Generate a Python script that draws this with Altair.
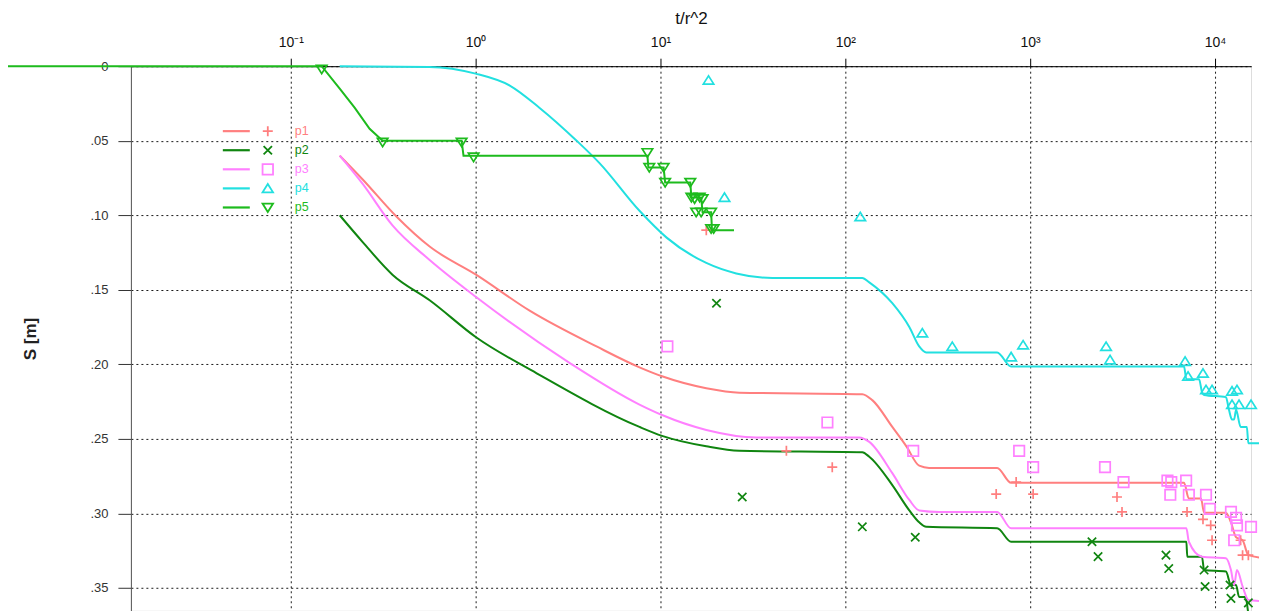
import altair as alt
import pandas as pd

# ---------------- data ----------------
series = ["p1", "p2", "p3", "p4", "p5"]
colors = ["#FF7F7F", "#108510", "#FF80FF", "#22E0E0", "#1DBB1D"]

# model curves
p1_line_x = [0.184, 0.245, 0.374, 0.564, 1.01, 1.96, 4.51, 7.7, 10.2, 17.7, 26.7, 123.6, 140, 179.6, 214, 251, 284, 663, 789, 6800, 7220, 8400, 8730, 11460, 12200, 13000, 14100, 15150, 18880]
p1_line_s = [0.060, 0.076, 0.101, 0.121, 0.140, 0.164, 0.188, 0.202, 0.208, 0.216, 0.219, 0.220, 0.224, 0.242, 0.255, 0.268, 0.2695, 0.2695, 0.2795, 0.2795, 0.290, 0.290, 0.2995, 0.2995, 0.306, 0.316, 0.318, 0.328, 0.330]

p2_line_x = [0.184, 0.245, 0.356, 0.564, 1.01, 2.14, 7.7, 10.2, 17.7, 26.7, 123.6, 134.8, 179.6, 222, 251, 274, 663, 789, 7000, 7080, 8500, 8730, 11460, 12200, 13000, 13490, 14640, 15150, 16500]
p2_line_s = [0.100, 0.118, 0.140, 0.157, 0.182, 0.206, 0.242, 0.248, 0.255, 0.258, 0.259, 0.262, 0.281, 0.298, 0.306, 0.309, 0.310, 0.319, 0.319, 0.329, 0.329, 0.338, 0.339, 0.348, 0.348, 0.356, 0.356, 0.367, 0.380]

p3_line_x = [0.184, 0.245, 0.356, 0.564, 1.01, 3.22, 7.7, 10.2, 17.7, 33, 119, 134.8, 179.6, 222, 251, 322, 663, 789, 7000, 7220, 8500, 11460, 12200, 12690, 13150, 14100, 15150, 18880]
p3_line_s = [0.060, 0.079, 0.107, 0.130, 0.155, 0.199, 0.227, 0.234, 0.244, 0.249, 0.249, 0.252, 0.273, 0.291, 0.298, 0.299, 0.299, 0.310, 0.310, 0.319, 0.329, 0.330, 0.338, 0.348, 0.338, 0.349, 0.358, 0.359]

p4_line_x = [0.184, 0.564, 1.0, 1.53, 2.22, 3.52, 4.68, 7.7, 10.8, 17.7, 25.7, 40.3, 123.6, 134.8, 179.6, 222, 251, 274, 663, 789, 6800, 7000, 8200, 8500, 8730, 11460, 11900, 12360, 12690, 13000, 13760, 14870, 15150, 18880]
p4_line_s = [0.0, 0.0005, 0.005, 0.013, 0.028, 0.050, 0.065, 0.097, 0.115, 0.132, 0.139, 0.142, 0.142, 0.145, 0.159, 0.175, 0.188, 0.192, 0.192, 0.2015, 0.2015, 0.210, 0.210, 0.2185, 0.2205, 0.222, 0.2305, 0.237, 0.237, 0.2305, 0.242, 0.242, 0.253, 0.253]

p5_line_x = [0.00295, 0.147, 0.184, 0.222, 0.267, 0.314, 0.84, 0.86, 8.5, 8.6, 10.4, 10.6, 14.5, 14.7, 16.6, 16.9, 18.8, 19.0, 25.0]
p5_line_s = [0.0, 0.0, 0.015, 0.028, 0.042, 0.050, 0.050, 0.060, 0.060, 0.068, 0.068, 0.078, 0.078, 0.088, 0.088, 0.098, 0.098, 0.110, 0.110]

# observations
p1_obs_x = [17.7, 48, 85, 655, 840, 1038, 2950, 3140, 7060, 8610, 9480, 9640, 13760, 14100, 15150]
p1_obs_s = [0.110, 0.258, 0.269, 0.287, 0.279, 0.287, 0.289, 0.299, 0.299, 0.304, 0.308, 0.318, 0.318, 0.328, 0.328]

p2_obs_x = [20.1, 27.7, 123.6, 239, 2160, 2330, 5430, 5620, 8730, 8840, 12060, 12200, 15150]
p2_obs_s = [0.159, 0.289, 0.309, 0.316, 0.319, 0.329, 0.328, 0.337, 0.338, 0.349, 0.348, 0.357, 0.360]

p3_obs_x = [10.9, 80, 233, 872, 1038, 2540, 3200, 5530, 5800, 6980, 5730, 7220, 8940, 9380, 12200, 13000, 13150, 12700, 15660]
p3_obs_s = [0.188, 0.239, 0.258, 0.258, 0.269, 0.269, 0.279, 0.278, 0.279, 0.278, 0.2875, 0.2875, 0.2875, 0.297, 0.299, 0.303, 0.308, 0.318, 0.309]

p4_obs_x = [18.2, 22.2, 120.5, 261, 379, 789, 916, 2575, 2706, 6890, 7150, 8610, 8940, 9640, 12360, 13150, 12360, 13490, 15660]
p4_obs_s = [0.0094, 0.088, 0.101, 0.179, 0.188, 0.195, 0.187, 0.188, 0.197, 0.198, 0.208, 0.206, 0.217, 0.217, 0.218, 0.217, 0.227, 0.227, 0.227]

p5_obs_x = [0.147, 0.314, 0.84, 0.975, 8.5, 8.7, 10.4, 10.6, 14.5, 14.7, 15.3, 16.3, 16.9, 15.6, 16.6, 18.8, 18.8, 19.4]
p5_obs_s = [0.002, 0.051, 0.051, 0.061, 0.058, 0.068, 0.068, 0.078, 0.078, 0.088, 0.089, 0.088, 0.089, 0.098, 0.098, 0.098, 0.109, 0.109]

x_ticks = [0.1, 1, 10, 100, 1000, 10000]
y_ticks = [0, 0.05, 0.10, 0.15, 0.20, 0.25, 0.30, 0.35]

lines = {"p1": (p1_line_x, p1_line_s), "p2": (p2_line_x, p2_line_s), "p3": (p3_line_x, p3_line_s),
         "p4": (p4_line_x, p4_line_s), "p5": (p5_line_x, p5_line_s)}
obs = {"p1": (p1_obs_x, p1_obs_s), "p2": (p2_obs_x, p2_obs_s), "p3": (p3_obs_x, p3_obs_s),
       "p4": (p4_obs_x, p4_obs_s), "p5": (p5_obs_x, p5_obs_s)}

# ---------------- styling ----------------
FONT = "Liberation Sans"
W, H = 1121, 545
X_DOMAIN = [0.01365, 15660]
Y_DOMAIN = [0, 0.3653]

shapes = {
    "p1": "M-1,0L1,0M0,-1L0,1",
    "p2": "M-1,-1L1,1M-1,1L1,-1",
    "p3": "square",
    "p4": "M-1,0.75L1,0.75L0,-0.85Z",
    "p5": "M-1,-0.75L1,-0.75L0,0.85Z",
}
sizes = {"p1": 100, "p2": 70, "p3": 110, "p4": 110, "p5": 110}
interp = {"p1": "monotone", "p2": "monotone", "p3": "monotone", "p4": "monotone", "p5": "linear"}

x_enc = alt.X(
    "x:Q",
    scale=alt.Scale(type="log", domain=X_DOMAIN, nice=False),
    axis=alt.Axis(
        orient="top", title="t/r^2", values=x_ticks,
        labelExpr="['10⁻¹','10⁰','10¹','10²','10³','10⁴'][round(log(datum.value)/LN10)+1]",
        grid=True, gridColor="#000", gridDash=[2, 3], gridOpacity=0.9,
        tickSize=8, tickColor="#000", domainColor="#000",
        labelFont=FONT, labelFontSize=14, labelColor="#111", labelPadding=9,
        titleFont=FONT, titleFontSize=17, titleFontWeight="normal", titleColor="#111", titlePadding=8,
    ),
)
y_enc = alt.Y(
    "s:Q",
    scale=alt.Scale(domain=Y_DOMAIN, reverse=True, nice=False, zero=False),
    axis=alt.Axis(
        title="S [m]", values=y_ticks,
        labelExpr="datum.value == 0 ? '0' : substring(format(datum.value, '.2f'), 1)",
        grid=True, gridColor="#000", gridDash=[2, 3], gridOpacity=0.9,
        tickSize=13, tickColor="#333", domainColor="#555",
        labelFont=FONT, labelFontSize=13, labelColor="#333", labelPadding=10,
        titleFont=FONT, titleFontSize=17, titleFontWeight="bold", titleColor="#222", titlePadding=50,
    ),
)

layers = []
for name, col in zip(series, colors):
    lx, ls = lines[name]
    df = pd.DataFrame({"x": lx, "s": ls})
    layers.append(alt.Chart(df).mark_line(color=col, strokeWidth=2, clip=False,
                                          interpolate=interp[name]).encode(x=x_enc, y=y_enc))
for name, col in zip(series, colors):
    ox, os_ = obs[name]
    df = pd.DataFrame({"x": ox, "s": os_})
    layers.append(
        alt.Chart(df).mark_point(
            shape=shapes[name], size=sizes[name], filled=False, color=col, strokeWidth=1.7, opacity=1
        ).encode(x=x_enc, y=y_enc)
    )

# legend (inside the plot, upper left)
one = pd.DataFrame({"k": [0]})
for i, (name, col) in enumerate(zip(series, colors)):
    yy = 65 + 19.1 * i
    base = alt.Chart(one)
    layers.append(base.mark_rule(color=col, strokeWidth=2.2).encode(
        x=alt.value(92), x2=alt.value(119), y=alt.value(yy)))
    layers.append(base.mark_point(shape=shapes[name], size=sizes[name], filled=False, color=col,
                                  strokeWidth=1.8, opacity=1).encode(x=alt.value(137), y=alt.value(yy)))
    layers.append(base.mark_text(color=col, font=FONT, fontSize=12.5, align="left", baseline="middle").encode(
        x=alt.value(164), y=alt.value(yy), text=alt.value(name)))

chart = alt.layer(*layers).properties(
    width=W, height=H,
    autosize=alt.AutoSizeParams(type="none"),
    padding={"left": 123, "top": 58, "right": 8, "bottom": 0},
).configure_view(stroke="#444", strokeWidth=1).configure(background="white")

chart.save("out.html", embed_options={"renderer": "svg", "actions": False})
